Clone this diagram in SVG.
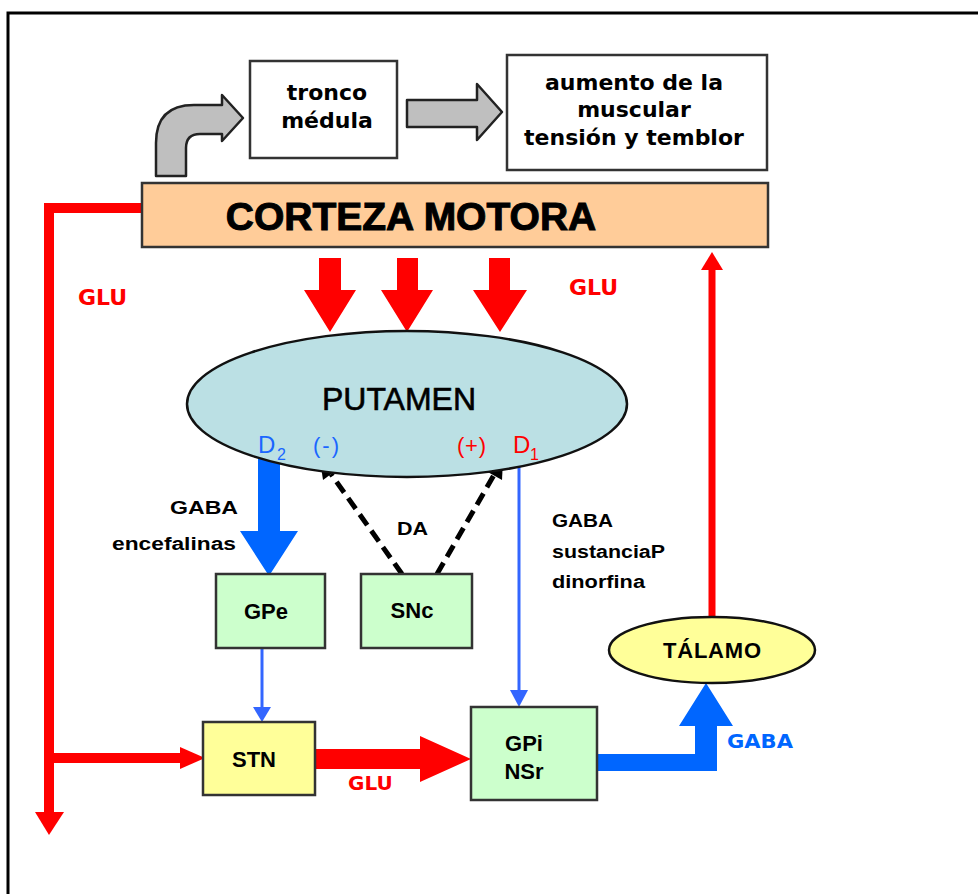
<svg xmlns="http://www.w3.org/2000/svg" width="978" height="894" viewBox="0 0 978 894">
<style>
.box{stroke:#333;stroke-width:2.5}
.lbl{font-family:"DejaVu Sans",Verdana,sans-serif;font-weight:bold;fill:#000;text-anchor:middle}
.nd{font-family:"Liberation Sans",Arial,sans-serif;font-weight:bold;font-size:22px;fill:#000;text-anchor:middle}
.sm{font-family:"Liberation Sans",Arial,sans-serif;font-weight:bold;font-size:18px;fill:#000}
.red{fill:#FF0000}
.glu{font-family:"DejaVu Sans",Verdana,sans-serif;font-weight:bold;font-size:22px;fill:#FF0000}
.gray{fill:#BFBFBF;stroke:#222;stroke-width:2.5;stroke-linejoin:round}
.blue{fill:#0066FF}
.thinb{stroke:#3366FF;stroke-width:3;fill:none}
.dash{stroke:#000;stroke-width:5;stroke-dasharray:13 7;fill:none}
</style>
<rect x="8" y="13" width="1000" height="1000" fill="#fff" stroke="#000" stroke-width="3"/>

<g id="connectors">
  <path class="gray" d="M156,176 L156,143 Q156,105 194,105 L222,105 L222,95 L243,118 L222,141 L222,134 L200,134 Q186,134 186,148 L186,176 Z"/>
  <path class="gray" d="M407,100 L477,100 L477,84 L502,112 L477,140 L477,127 L407,127 Z"/>
  <path d="M142,208 L49,208 L49,812" stroke="#FF0000" stroke-width="10" fill="none"/>
  <polygon class="red" points="35,812 64,812 49,835"/>
  <path d="M49,758 L182,758" stroke="#FF0000" stroke-width="10" fill="none"/>
  <polygon class="red" points="180,747 205,758 180,769"/>
  <polygon class="red" points="319,258 341,258 341,290 356,290 330,332 304,290 319,290"/>
  <polygon class="red" points="397,258 418,258 418,290 433,290 407,332 381,290 397,290"/>
  <polygon class="red" points="489,258 510,258 510,290 527,290 500,332 473,290 489,290"/>
  <polygon class="blue" points="258,457 280,457 280,531 298,531 269,576 240,531 258,531"/>
  <line class="dash" x1="402" y1="574" x2="331" y2="474"/>
  <polygon points="320,460 338,469 323,480" fill="#000"/>
  <line class="dash" x1="437" y1="574" x2="494" y2="475"/>
  <polygon points="503,460 502,480 486,471" fill="#000"/>
  <line class="thinb" x1="519" y1="465" x2="519" y2="692"/>
  <polygon points="510,690 528,690 519,707" fill="#3366FF"/>
  <line class="thinb" x1="262" y1="648" x2="262" y2="710"/>
  <polygon points="253,707 271,707 262,722" fill="#3366FF"/>
  <polygon class="red" points="315,749 420,749 420,736 471,759 420,782 420,769 315,769"/>
  <polygon class="blue" points="597,754 695,754 695,726 679,726 706,683 733,726 717,726 717,771 597,771"/>
  <line x1="712" y1="617" x2="712" y2="268" stroke="#FF0000" stroke-width="7"/>
  <polygon class="red" points="701,270 723,270 712,252"/>
</g>

<g id="tronco">
  <rect class="box" x="250" y="61" width="147" height="97" fill="#fff"/>
  <text class="lbl" x="327" y="100" font-size="22">tronco</text>
  <text class="lbl" x="327" y="128" font-size="22">médula</text>
</g>

<g id="aumento">
  <rect class="box" x="507" y="55" width="260" height="115" fill="#fff"/>
  <text class="lbl" x="634" y="90" font-size="22">aumento de la</text>
  <text class="lbl" x="634" y="117" font-size="22">muscular</text>
  <text class="lbl" x="634" y="145" font-size="22">tensión y temblor</text>
</g>

<g id="corteza">
  <rect class="box" x="142" y="183" width="626" height="64" fill="#FFCC99"/>
  <text class="nd" x="411" y="230" style="font-size:39px" stroke="#000" stroke-width="1">CORTEZA MOTORA</text>
</g>

<g id="labels-glu">
  <text class="glu" x="78" y="305">GLU</text>
  <text class="glu" x="569" y="295">GLU</text>
  <text class="glu" x="348" y="790" style="font-size:20px">GLU</text>
  <text x="727" y="748" font-family="DejaVu Sans,Verdana,sans-serif" font-weight="bold" font-size="19" fill="#0066FF" textLength="66" lengthAdjust="spacingAndGlyphs">GABA</text>
</g>

<g id="putamen">
  <ellipse cx="407" cy="404" rx="220" ry="73" fill="#BBE0E4" stroke="#111" stroke-width="2.5"/>
  <text x="399" y="410" font-family="Liberation Sans,Arial,sans-serif" font-size="32" text-anchor="middle" fill="#000" stroke="#000" stroke-width="0.6">PUTAMEN</text>
  <text x="258" y="453" font-family="Liberation Sans,Arial,sans-serif" font-size="24" fill="#1a66ff">D</text>
  <text x="277" y="460" font-family="Liberation Sans,Arial,sans-serif" font-size="16" fill="#1a66ff">2</text>
  <text x="313" y="453" font-family="Liberation Sans,Arial,sans-serif" font-size="22" fill="#1a66ff" textLength="26">(-)</text>
  <text x="457" y="453" font-family="Liberation Sans,Arial,sans-serif" font-size="22" fill="#FF0000" textLength="29">(+)</text>
  <text x="513" y="453" font-family="Liberation Sans,Arial,sans-serif" font-size="24" fill="#FF0000">D</text>
  <text x="530" y="460" font-family="Liberation Sans,Arial,sans-serif" font-size="16" fill="#FF0000">1</text>
</g>

<g id="labels-black">
  <text class="sm" x="170" y="514" textLength="68" lengthAdjust="spacingAndGlyphs">GABA</text>
  <text class="sm" x="112" y="550" textLength="124" lengthAdjust="spacingAndGlyphs">encefalinas</text>
  <text class="sm" x="397" y="535" textLength="31" lengthAdjust="spacingAndGlyphs">DA</text>
  <text class="sm" x="552" y="527" textLength="61" lengthAdjust="spacingAndGlyphs">GABA</text>
  <text class="sm" x="552" y="558" textLength="113" lengthAdjust="spacingAndGlyphs">sustanciaP</text>
  <text class="sm" x="552" y="588" textLength="93" lengthAdjust="spacingAndGlyphs">dinorfina</text>
</g>

<g id="gpe">
  <rect class="box" x="216" y="574" width="109" height="74" fill="#CCFFCC"/>
  <text class="nd" x="266" y="619">GPe</text>
</g>

<g id="snc">
  <rect class="box" x="361" y="574" width="111" height="74" fill="#CCFFCC"/>
  <text class="nd" x="412" y="618">SNc</text>
</g>

<g id="stn">
  <rect class="box" x="203" y="722" width="112" height="73" fill="#FFFF99"/>
  <text class="nd" x="254" y="767">STN</text>
</g>

<g id="gpi">
  <rect class="box" x="471" y="707" width="126" height="93" fill="#CCFFCC"/>
  <text class="nd" x="524" y="751">GPi</text>
  <text class="nd" x="524" y="779">NSr</text>
</g>

<g id="talamo">
  <ellipse cx="712" cy="650" rx="103" ry="33" fill="#FFFF99" stroke="#111" stroke-width="2.5"/>
  <text class="nd" x="712" y="658" textLength="98" lengthAdjust="spacing">TÁLAMO</text>
</g>
</svg>
